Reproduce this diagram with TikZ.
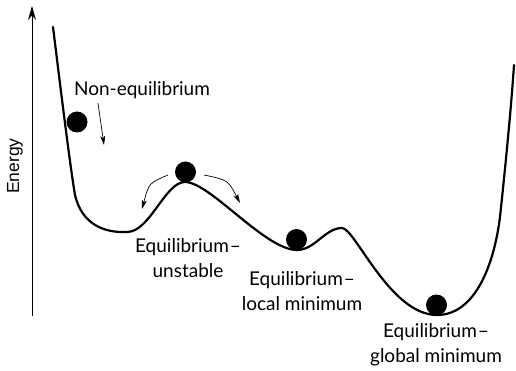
\documentclass[tikz,border=0pt]{standalone}
\usepackage{fontspec}
\setmainfont{Lato}
\newfontfamily\axisfont{Liberation Sans}
\usetikzlibrary{arrows.meta}

\begin{document}
\begin{tikzpicture}[x=1pt,y=-1pt,lbl/.style={align=center,inner sep=0pt,anchor=north,font=\fontsize{19}{25}\selectfont},ball/.style={circle,fill=black,minimum size=21pt,inner sep=0pt},land/.style={line width=2.2pt,line cap=round,line join=round},arr/.style={-{Stealth[length=9pt,width=5pt,inset=2pt]},line width=0.7pt}]
\useasboundingbox (0,0) rectangle (516,371);
% energy axis
\coordinate (axlo) at (32,316);
\coordinate (axhi) at (32,6);
\draw[-{Stealth[length=14pt,width=8pt]},line width=1pt] (axlo)--(axhi);
\node[rotate=90,inner sep=0pt,font=\axisfont\fontsize{17.5}{20}\selectfont] (energy) at (15,166) {Energy};
% energy landscape
\draw[land] (53,27) .. controls (62,100) and (70,165) .. (75,195)
  .. controls (82,225) and (105,233) .. (127,232)
  .. controls (150,232) and (165,182) .. (185,182)
  .. controls (210,182) and (265,250) .. (297,250)
  .. controls (315,250) and (325,228) .. (342,228)
  .. controls (355,228) and (390,315) .. (437,315)
  .. controls (475,315) and (494,265) .. (500,217)
  .. controls (505,170) and (511,110) .. (514,65);
% balls
\node[ball] (bNon) at (77,122) {};
\node[ball] (bTop) at (185.5,172) {};
\node[ball] (bLocal) at (296.5,239.5) {};
\node[ball] (bGlobal) at (436.5,305) {};
% labels
\node[lbl] (nonEq) at (142,81) {Non-equilibrium};
\node[lbl] (unstab) at (188,238) {Equilibrium\kern1pt--\\unstable};
\node[lbl] (localMin) at (302,271) {Equilibrium\kern1pt--\\local minimum};
\node[lbl] (globalMin) at (436,323) {Equilibrium\kern1pt--\\global minimum};
% arrows
\coordinate (n1) at (98,103);\coordinate (n2) at (104,145);
\coordinate (l1) at (168,175);\coordinate (l2) at (142,209);
\coordinate (r1) at (204,175);\coordinate (r2) at (240,203);
\draw[arr] (n1)--(n2);
\draw[arr] (l1) .. controls (149,183) .. (l2);
\draw[arr] (r1) .. controls (228,180) .. (r2);
\end{tikzpicture}
\end{document}
